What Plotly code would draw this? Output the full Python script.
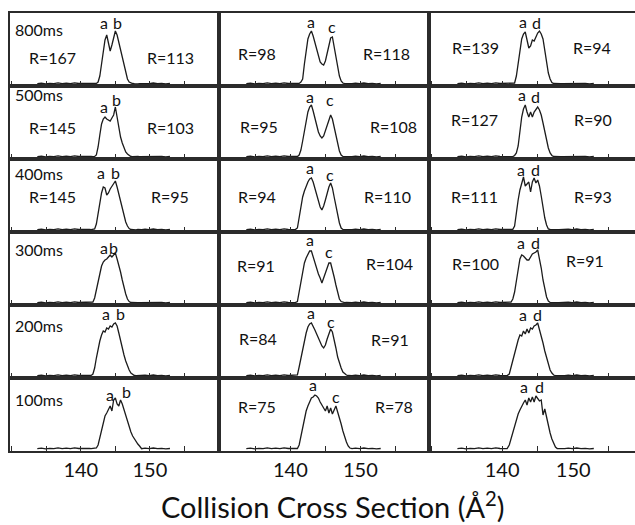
import plotly.graph_objects as go
from plotly.subplots import make_subplots

# ---------------- data ----------------
CCS_GRID = [141.0, 141.25, 141.5, 141.75, 142.0, 142.25, 142.5, 142.75, 143.0, 143.25,
            143.5, 143.75, 144.0, 144.25, 144.5, 144.75, 145.0, 145.25, 145.5, 145.75,
            146.0, 146.25, 146.5, 146.75, 147.0, 147.25, 147.5, 147.75, 148.0, 148.25, 148.5]

BASE_LEFT_CCS = [133.7, 134.3, 134.9, 135.5, 136.1, 136.7, 137.3, 137.9, 138.5, 139.1, 139.7, 140.3, 140.7]
BASE_LEFT_INT = [0.4, 0.9, 0.2, 0.7, 0.3, 1.1, 0.4, 0.8, 0.3, 1.2, 0.5, 0.7, 0.4]
BASE_RIGHT_CCS = [148.8, 149.3, 149.9, 150.5, 151.1, 151.7, 152.3, 152.9]
BASE_RIGHT_INT = [0.3, 0.8, 0.3, 1.0, 0.4, 0.7, 0.2, 0.5]

TIMES = ["800ms", "500ms", "400ms", "300ms", "200ms", "100ms"]

# column 1 : peaks a / b
PEAKS_AB = [
    [0.3, 0.5, 0.4, 0.6, 0.5, 0.6, 2, 8, 20, 33, 44, 49, 41, 33, 39, 47, 53, 49, 42, 35, 26, 18, 11, 5, 2, 1, 0.5, 0.3, 0.6, 0.2, 0.4],
    [0.4, 0.3, 0.6, 0.3, 0.5, 2, 10, 22, 33, 38, 40, 38, 37, 36, 39, 42, 50, 40, 29, 20, 14, 9, 5, 3, 1.5, 0.5, 0.3, 0.5, 0.2, 0.6, 0.3],
    [0.4, 0.6, 0.3, 0.5, 1, 6, 17, 28, 37, 43, 42, 35, 37, 41, 44, 47, 49, 43, 36, 28, 20, 13, 8, 4, 1.5, 0.5, 0.3, 0.6, 0.2, 0.5, 0.3],
    [0.3, 0.5, 0.4, 1, 5, 12, 20, 29, 37, 41, 43, 44, 46, 48, 46, 48, 50, 44, 38, 31, 23, 15, 9, 4, 1.5, 0.5, 0.3, 0.5, 0.2, 0.4, 0.3],
    [0.3, 0.5, 0.6, 2, 8, 18, 27, 35, 41, 45, 44, 48, 47, 50, 49, 52, 53, 50, 43, 35, 27, 21, 15, 10, 6, 3, 1.5, 0.5, 0.3, 0.5, 0.2],
    [0.3, 0.5, 0.3, 0.6, 0.4, 1, 4, 11, 19, 28, 33, 36, 40, 43, 38, 49, 51, 45, 43, 49, 45, 39, 33, 27, 21, 17, 13, 10, 7, 5, 3],
]
# column 2 : peaks a / c
PEAKS_AC = [
    [0.4, 0.6, 2, 5, 20, 34, 45, 50, 53, 48, 41, 33, 26, 22, 20, 19, 23, 30, 39, 46, 47, 37, 27, 17, 8, 3, 1, 0.3, 0.5, 0.2, 0.4],
    [0.5, 2, 7, 16, 26, 36, 45, 50, 52, 46, 38, 30, 25, 21, 19, 21, 26, 32, 38, 42, 38, 30, 21, 13, 6, 2, 0.5, 0.3, 0.5, 0.2, 0.4],
    [2, 13, 24, 33, 39, 44, 48, 51, 52, 48, 42, 35, 28, 23, 20, 24, 30, 37, 43, 47, 42, 33, 24, 15, 7, 2, 0.5, 0.3, 0.5, 0.2, 0.4],
    [1.5, 12, 23, 33, 40, 45, 49, 52, 52, 46, 39, 34, 29, 25, 20, 25, 30, 35, 40, 40, 34, 26, 18, 10, 4, 1.5, 0.5, 0.3, 0.5, 0.2, 0.4],
    [1, 9, 18, 27, 35, 43, 49, 52, 53, 50, 46, 42, 38, 34, 30, 28, 31, 37, 42, 47, 44, 37, 28, 19, 12, 8, 4, 2, 1, 0.5, 0.3],
    [0.5, 4, 12, 22, 31, 38, 43, 47, 51, 52, 54, 53, 51, 47, 44, 40, 38, 43, 36, 41, 35, 39, 43, 37, 32, 25, 18, 12, 7, 3, 1],
]
# column 3 : peaks a / d
PEAKS_AD = [
    [0.4, 0.3, 0.6, 1, 8, 20, 33, 45, 50, 52, 44, 36, 38, 44, 43, 48, 51, 53, 50, 45, 32, 21, 11, 5, 1.5, 0.5, 0.3, 0.5, 0.2, 0.4, 0.3],
    [0.3, 0.5, 0.4, 1.5, 4, 11, 26, 40, 48, 52, 45, 40, 45, 40, 45, 48, 50, 47, 42, 34, 25, 16, 9, 4, 1.5, 0.5, 0.3, 0.5, 0.2, 0.4, 0.3],
    [0.3, 0.5, 0.6, 4, 18, 30, 40, 47, 53, 44, 46, 48, 38, 48, 52, 47, 50, 44, 34, 22, 12, 5, 1, 0.5, 0.3, 0.5, 0.2, 0.4, 0.3, 0.5, 0.2],
    [0.5, 1, 4, 11, 22, 35, 44, 48, 47, 45, 43, 43, 46, 49, 50, 51, 53, 45, 35, 23, 13, 6, 2, 0.5, 0.3, 0.5, 0.2, 0.4, 0.3, 0.5, 0.2],
    [2, 9, 17, 25, 31, 36, 41, 40, 45, 42, 47, 43, 48, 47, 50, 51, 53, 47, 40, 33, 25, 18, 12, 6, 3, 1, 0.4, 0.3, 0.5, 0.2, 0.4],
    [4, 10, 17, 24, 30, 35, 39, 43, 46, 49, 44, 51, 47, 52, 47, 53, 51, 48, 49, 34, 40, 31, 24, 16, 10, 6, 2, 0.5, 0.3, 0.5, 0.2],
]
PEAK_LETTERS = [("a", "b"), ("a", "c"), ("a", "d")]

R_LEFT = [[167, 145, 145, None, None, None],
          [98, 95, 94, 91, 84, 75],
          [139, 127, 111, 100, None, None]]
R_RIGHT = [[113, 103, 95, None, None, None],
           [118, 108, 110, 104, 91, 78],
           [94, 90, 93, 91, None, None]]

TICK_VALS = [140, 150]
TICK_TEXT = ["140", "150"]

# ---------------- layout helpers (positions / styles) ----------------
W, H = 635, 525
COL_PX = [(10, 219), (219, 429), (429, 635)]
ROW_TOP0, ROW_H = 13, 73
X_RANGES = [[129.75, 160.0], [129.8, 159.8], [129.7, 158.7]]
Y_RANGE = [-2, 71]

TIME_POS = [(130.17, 55), (130.17, 63), (130.17, 57), (130.17, 54), (130.17, 51), (130.17, 50)]
LETTER_POS = [
    [[(143.29, 62), (145.25, 62)], [(143.29, 51), (145.10, 58)], [(142.90, 58), (145.07, 58)],
     [(143.32, 56), (144.71, 56)], [(143.65, 63), (145.68, 63)], [(144.23, 55), (146.55, 58)]],
    [[(142.93, 63), (145.93, 58)], [(142.79, 61), (145.64, 58)], [(142.79, 63), (145.64, 56)],
     [(142.79, 64), (145.50, 52)], [(142.93, 64), (145.79, 55)], [(143.21, 65), (146.50, 53)]],
    [[(142.96, 63), (144.89, 62)], [(142.77, 63), (144.76, 61)], [(142.65, 61), (144.72, 61)],
     [(142.65, 61), (144.72, 61)], [(142.96, 62), (144.93, 62)], [(143.10, 63), (145.21, 63)]],
]
RL_POS = [
    [(135.97, 27), (135.97, 30), (135.97, 34), None, None, None],
    [(135.21, 31), (135.5, 31), (135.17, 34), (135.14, 38), (135.36, 38), (135.21, 43)],
    [(136.2, 36.5), (136.13, 38), (136.06, 34), (136.2, 39.5), None, None],
]
RR_POS = [
    [(152.93, 27), (152.93, 30), (152.93, 34), None, None, None],
    [(153.79, 31), (154.71, 31), (153.86, 34), (154.21, 39.5), (154.21, 37), (154.86, 43)],
    [(152.61, 36.5), (152.75, 38), (152.75, 34), (151.69, 43), None, None],
]

FONT = "Lato, 'Open Sans', sans-serif"
LINE_C = "#2b2b2b"
TEXT_C = "#111111"

fig = make_subplots(rows=6, cols=3, horizontal_spacing=0, vertical_spacing=0)

peaks_by_col = [PEAKS_AB, PEAKS_AC, PEAKS_AD]
annotations = []
for c in range(3):
    for r in range(6):
        xs = BASE_LEFT_CCS + CCS_GRID + BASE_RIGHT_CCS
        ys = BASE_LEFT_INT + peaks_by_col[c][r] + BASE_RIGHT_INT
        fig.add_trace(go.Scatter(x=xs, y=ys, mode="lines",
                                 line=dict(color="#1c1c1c", width=1.3),
                                 showlegend=False, hoverinfo="skip"),
                      row=r + 1, col=c + 1)
        idx = r * 3 + c + 1
        xa = "x" if idx == 1 else f"x{idx}"
        ya = "y" if idx == 1 else f"y{idx}"
        xkey = "xaxis" if idx == 1 else f"xaxis{idx}"
        ykey = "yaxis" if idx == 1 else f"yaxis{idx}"
        top = ROW_TOP0 + ROW_H * r
        bot = top + ROW_H
        x0, x1 = COL_PX[c]
        fig.layout[xkey].update(
            domain=[x0 / W, x1 / W], range=X_RANGES[c],
            showline=True, linecolor=LINE_C, linewidth=1.5, mirror=True,
            ticks="inside", ticklen=5, tickwidth=1, tickcolor=LINE_C,
            tickmode="array", tickvals=TICK_VALS, ticktext=TICK_TEXT,
            minor=dict(ticks="inside", ticklen=5, tickwidth=1, tickcolor=LINE_C,
                       dtick=5, tick0=0, showgrid=False),
            showticklabels=(r == 5), showgrid=False, zeroline=False,
            tickfont=dict(family=FONT, size=20, color=TEXT_C),
        )
        fig.layout[ykey].update(
            domain=[1 - bot / H, 1 - top / H], range=Y_RANGE,
            showline=True, linecolor=LINE_C, linewidth=1.5, mirror=(c < 2),
            ticks="", showticklabels=False, showgrid=False, zeroline=False,
        )
        fnt = dict(family=FONT, size=16, color=TEXT_C)
        if c == 0:
            tx, ty = TIME_POS[r]
            annotations.append(dict(x=tx, y=ty, xref=xa, yref=ya, text=TIMES[r],
                                    showarrow=False, xanchor="left", yanchor="middle", font=fnt))
        for (lx, ly), letter in zip(LETTER_POS[c][r], PEAK_LETTERS[c]):
            annotations.append(dict(x=lx, y=ly, xref=xa, yref=ya, text=letter,
                                    showarrow=False, xanchor="center", yanchor="middle", font=fnt))
        if R_LEFT[c][r] is not None:
            px, py = RL_POS[c][r]
            annotations.append(dict(x=px, y=py, xref=xa, yref=ya, text=f"R={R_LEFT[c][r]}",
                                    showarrow=False, xanchor="center", yanchor="middle", font=fnt))
        if R_RIGHT[c][r] is not None:
            px, py = RR_POS[c][r]
            annotations.append(dict(x=px, y=py, xref=xa, yref=ya, text=f"R={R_RIGHT[c][r]}",
                                    showarrow=False, xanchor="center", yanchor="middle", font=fnt))

annotations.append(dict(x=333 / W, y=1 - 505 / H, xref="paper", yref="paper",
                        text="Collision Cross Section (Å<sup>2</sup>)", showarrow=False,
                        xanchor="center", yanchor="middle",
                        font=dict(family=FONT, size=29, color=TEXT_C)))

fig.update_layout(width=W, height=H, margin=dict(l=0, r=0, t=0, b=0),
                  paper_bgcolor="white", plot_bgcolor="white",
                  annotations=annotations, showlegend=False)

fig.write_html("out.html")
